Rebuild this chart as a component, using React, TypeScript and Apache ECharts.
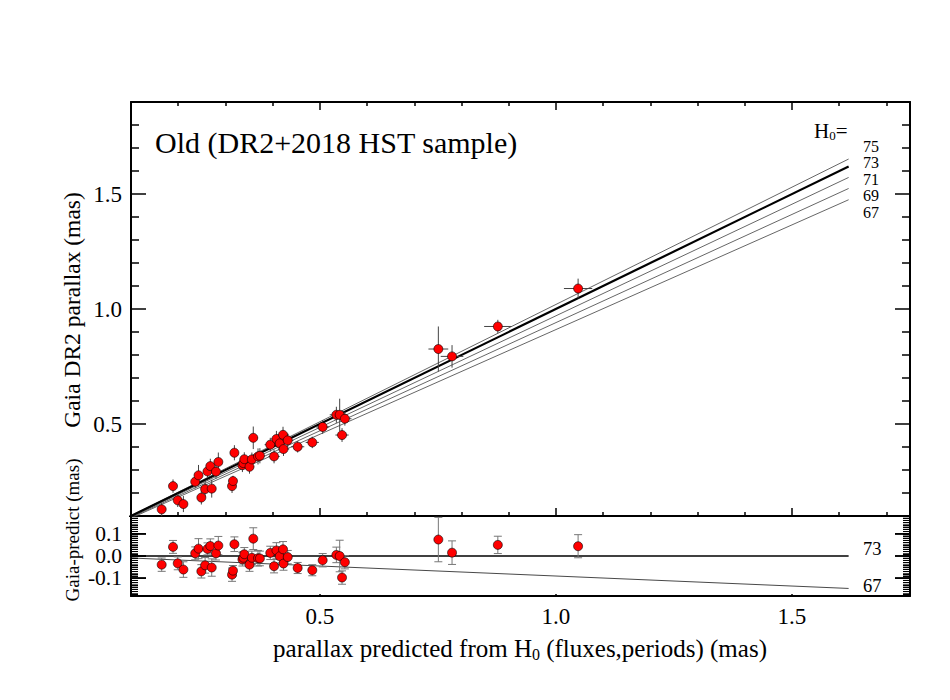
import React, { useEffect, useRef } from "react";
import * as echarts from "echarts";

const FONT = "'Liberation Serif', 'Times New Roman', serif";

// ---- data ----
const X = [0.165, 0.189, 0.199, 0.211, 0.236, 0.243, 0.249, 0.257, 0.262, 0.268, 0.271, 0.280, 0.285, 0.314, 0.316, 0.319, 0.336, 0.338, 0.340, 0.351, 0.356, 0.359, 0.369, 0.373, 0.395, 0.403, 0.408, 0.415, 0.422, 0.423, 0.432, 0.453, 0.484, 0.506, 0.535, 0.542, 0.547, 0.553, 0.751, 0.780, 0.877, 1.047];
const Y = [0.129, 0.230, 0.168, 0.152, 0.249, 0.277, 0.180, 0.217, 0.294, 0.317, 0.219, 0.293, 0.335, 0.230, 0.252, 0.375, 0.321, 0.330, 0.347, 0.314, 0.346, 0.440, 0.359, 0.362, 0.410, 0.359, 0.435, 0.416, 0.453, 0.391, 0.429, 0.401, 0.420, 0.487, 0.540, 0.540, 0.452, 0.523, 0.826, 0.794, 0.924, 1.089];
const EX = [0.006, 0.006, 0.006, 0.006, 0.006, 0.008, 0.008, 0.008, 0.008, 0.008, 0.008, 0.008, 0.008, 0.008, 0.008, 0.008, 0.010, 0.010, 0.010, 0.010, 0.010, 0.010, 0.010, 0.010, 0.012, 0.012, 0.012, 0.012, 0.012, 0.012, 0.012, 0.014, 0.014, 0.014, 0.014, 0.014, 0.014, 0.014, 0.021, 0.024, 0.029, 0.030];
const EY = [0.030, 0.029, 0.029, 0.035, 0.029, 0.045, 0.030, 0.035, 0.027, 0.032, 0.039, 0.030, 0.041, 0.030, 0.023, 0.033, 0.030, 0.028, 0.030, 0.030, 0.030, 0.049, 0.035, 0.033, 0.030, 0.030, 0.035, 0.030, 0.035, 0.030, 0.030, 0.025, 0.025, 0.030, 0.035, 0.070, 0.030, 0.030, 0.098, 0.049, 0.029, 0.043];
const RES = [-0.039, 0.041, -0.033, -0.061, 0.012, 0.033, -0.069, -0.042, 0.032, 0.045, -0.052, 0.012, 0.047, -0.084, -0.066, 0.053, -0.015, -0.008, 0.008, -0.039, -0.008, 0.078, -0.010, -0.011, 0.014, -0.046, 0.025, -0.001, 0.030, -0.034, -0.005, -0.054, -0.064, -0.019, 0.005, 0.000, -0.097, -0.028, 0.074, 0.015, 0.050, 0.044];
const RES_ERR = [0.030, 0.029, 0.029, 0.035, 0.029, 0.045, 0.030, 0.035, 0.027, 0.032, 0.039, 0.030, 0.041, 0.030, 0.023, 0.033, 0.030, 0.028, 0.030, 0.030, 0.030, 0.049, 0.035, 0.033, 0.030, 0.030, 0.035, 0.030, 0.035, 0.030, 0.030, 0.025, 0.025, 0.030, 0.035, 0.071, 0.030, 0.030, 0.100, 0.053, 0.039, 0.052];

const H0 = [75, 73, 71, 69, 67];
const LINE_X_END = 1.62;
const LINE_Y_END = [1.652, 1.62, 1.572, 1.524, 1.475];
const RES_H0 = [73, 67];
const RES_LINE_END = [0, -0.146];

const X_MIN = 0.1, X_MAX = 1.75;
const X_MAJOR = [0.5, 1.0, 1.5];
const X_MINOR = [0.2, 0.3, 0.4, 0.6, 0.7, 0.8, 0.9, 1.1, 1.2, 1.3, 1.4, 1.6, 1.7];
const Y_MAJOR = [0.5, 1.0, 1.5];
const Y_MINOR = [0.2, 0.3, 0.4, 0.6, 0.7, 0.8, 0.9, 1.1, 1.2, 1.3, 1.4, 1.6, 1.7, 1.8];
const R_MAJOR = [-0.1, 0.0, 0.1];
// residual panel: minor ticks every 0.01 between -0.17 and 0.17
const R_MINOR = [-0.17, -0.16, -0.15, -0.14, -0.13, -0.12, -0.11, -0.10, -0.09, -0.08, -0.07, -0.06, -0.05, -0.04, -0.03, -0.02, -0.01, 0.0, 0.01, 0.02, 0.03, 0.04, 0.05, 0.06, 0.07, 0.08, 0.09, 0.10, 0.11, 0.12, 0.13, 0.14, 0.15, 0.16, 0.17];

export default function App() {
  const ref = useRef<HTMLDivElement>(null);
  useEffect(() => {
    if (!ref.current) return;
    const chart = echarts.init(ref.current, undefined, { renderer: "svg" });

    const axisLine = { show: true, onZero: false, lineStyle: { color: "#000", width: 2 } };
    const noLine = { show: false };
    const lbl = (size: number) => ({ fontFamily: FONT, fontSize: size, color: "#000" });

    const xAx = (grid: number, position: string, ticks: number[], len: number, showLine: boolean, labels?: boolean) => ({
      type: "value", gridIndex: grid, position, min: X_MIN, max: X_MAX,
      splitLine: { show: false },
      axisLine: showLine ? axisLine : noLine,
      axisTick: { show: len > 0, inside: true, length: len, customValues: ticks, lineStyle: { color: "#000", width: 1.5 } },
      axisLabel: labels ? { show: true, customValues: X_MAJOR, margin: 9, showMinLabel: true, showMaxLabel: true, formatter: (v: number) => v.toFixed(1), ...lbl(23) } : { show: false },
    });
    const yAx = (grid: number, position: string, min: number, max: number, ticks: number[], len: number, showLine: boolean, labels?: number[], size = 23, w = 1.5) => ({
      type: "value", gridIndex: grid, position, min, max,
      splitLine: { show: false },
      axisLine: showLine ? axisLine : noLine,
      axisTick: { show: len > 0, inside: true, length: len, customValues: ticks, lineStyle: { color: "#000", width: w } },
      axisLabel: labels ? { show: true, customValues: labels, margin: 9, showMinLabel: true, showMaxLabel: true, hideOverlap: false, formatter: (v: number) => v.toFixed(1), ...lbl(size) } : { show: false },
    });

    const xAxis = [
      xAx(0, "bottom", X_MAJOR, 8, true),
      xAx(0, "bottom", X_MINOR, 4, false),
      xAx(0, "top", X_MAJOR, 8, true),
      xAx(0, "top", X_MINOR, 4, false),
      xAx(1, "bottom", X_MAJOR, 2, true, true),
    ];
    const yAxis = [
      yAx(0, "left", 0.1, 1.9, Y_MAJOR, 15, true, Y_MAJOR),
      yAx(0, "left", 0.1, 1.9, Y_MINOR, 8, false),
      yAx(0, "right", 0.1, 1.9, Y_MAJOR, 15, true),
      yAx(0, "right", 0.1, 1.9, Y_MINOR, 8, false),
      yAx(1, "left", -0.18, 0.18, R_MAJOR, 15, true, R_MAJOR, 21.5),
      yAx(1, "right", -0.18, 0.18, R_MAJOR, 15, true),
      yAx(1, "left", -0.18, 0.18, R_MINOR, 7, false, undefined, 23, 1),
      yAx(1, "right", -0.18, 0.18, R_MINOR, 7, false, undefined, 23, 1),
    ];

    const topPts = X.map((x, i) => [x, Y[i], EX[i], EY[i]]);
    const resPts = X.map((x, i) => [x, RES[i], RES_ERR[i]]);

    const series: any[] = [];
    H0.forEach((h, i) => {
      series.push({
        type: "line", name: "H0=" + h, xAxisIndex: 0, yAxisIndex: 0, symbol: "none", silent: true,
        data: [[0, 0], [LINE_X_END, LINE_Y_END[i]]],
        lineStyle: h === 73 ? { color: "#000", width: 2.2 } : { color: "#555", width: 0.9 },
        z: h === 73 ? 3 : 2,
      });
    });
    series.push({
      type: "custom", xAxisIndex: 0, yAxisIndex: 0, data: topPts, encode: { x: 0, y: 1 }, z: 4, silent: true,
      renderItem: (_p: any, api: any) => {
        const x = api.value(0), y = api.value(1), ex = api.value(2), ey = api.value(3);
        const l = api.coord([x - ex, y]), r = api.coord([x + ex, y]);
        const t = api.coord([x, y + ey]), b = api.coord([x, y - ey]);
        const st = { stroke: "#444", lineWidth: 1 };
        return {
          type: "group", children: [
            { type: "line", shape: { x1: l[0], y1: l[1], x2: r[0], y2: r[1] }, style: st },
            { type: "line", shape: { x1: t[0], y1: t[1], x2: b[0], y2: b[1] }, style: st },
          ],
        };
      },
    });
    series.push({
      type: "scatter", xAxisIndex: 0, yAxisIndex: 0, data: topPts.map((p) => [p[0], p[1]]),
      symbol: "circle", symbolSize: 9, z: 5,
      itemStyle: { color: "#ff0000", borderColor: "#000", borderWidth: 0.6, opacity: 1 },
    });
    RES_H0.forEach((h, i) => {
      series.push({
        type: "line", name: "res" + h, xAxisIndex: 4, yAxisIndex: 4, symbol: "none", silent: true,
        data: [[0, 0], [LINE_X_END, RES_LINE_END[i]]],
        lineStyle: h === 73 ? { color: "#000", width: 1.6 } : { color: "#333", width: 0.9 },
      });
    });
    series.push({
      type: "custom", xAxisIndex: 4, yAxisIndex: 4, data: resPts, encode: { x: 0, y: 1 }, z: 4, silent: true,
      renderItem: (params: any, api: any) => {
        const x = api.value(0), y = api.value(1), e = api.value(2);
        const t = api.coord([x, y + e]), b = api.coord([x, y - e]);
        const st = { stroke: "#777", lineWidth: 1 };
        const c = 4;
        const children: any[] = [
          { type: "line", shape: { x1: t[0], y1: t[1], x2: b[0], y2: b[1] }, style: st },
          { type: "line", shape: { x1: t[0] - c, y1: t[1], x2: t[0] + c, y2: t[1] }, style: st },
          { type: "line", shape: { x1: b[0] - c, y1: b[1], x2: b[0] + c, y2: b[1] }, style: st },
        ];
        if (params.dataIndex === 0) {
          // residual-panel ticks (dense minors + majors), placed through the residual axes
          const addTicks = (vals: number[], len: number, w: number) => {
            vals.forEach((v) => {
              const pl = api.coord([X_MIN, v]);
              const pr = api.coord([X_MAX, v]);
              const ts = { stroke: "#000", lineWidth: w };
              children.push({ type: "line", shape: { x1: pl[0], y1: pl[1], x2: pl[0] + len, y2: pl[1] }, style: ts });
              children.push({ type: "line", shape: { x1: pr[0] - len, y1: pr[1], x2: pr[0], y2: pr[1] }, style: ts });
            });
          };
          addTicks(R_MINOR, 7, 1);
          addTicks(R_MAJOR, 15, 1.5);
        }
        return { type: "group", children };
      },
    });
    series.push({
      type: "scatter", xAxisIndex: 4, yAxisIndex: 4, data: resPts.map((p) => [p[0], p[1]]),
      symbol: "circle", symbolSize: 9, z: 5,
      itemStyle: { color: "#ff0000", borderColor: "#000", borderWidth: 0.6, opacity: 1 },
    });

    const txt = (x: number, y: number, text: string, size: number, extra: any = {}) => ({
      type: "text", x, y, z: 100, silent: true,
      style: { text, fontFamily: FONT, fontSize: size, fill: "#000", align: "left", verticalAlign: "middle", ...extra },
    });
    const labelYs = [146, 162.5, 179, 195.5, 212];
    const graphic: any[] = [
      txt(155, 142, "Old (DR2+2018 HST sample)", 30),
      {
        type: "text", x: 814, y: 131, z: 100, silent: true,
        style: {
          text: "{h|H}{s|0}{h|=}", align: "left", verticalAlign: "middle",
          rich: {
            h: { fontFamily: FONT, fontSize: 21, fill: "#000", verticalAlign: "middle", lineHeight: 22 },
            s: { fontFamily: FONT, fontSize: 13, fill: "#000", verticalAlign: "bottom", lineHeight: 13, padding: [10, 0, 0, 0] },
          },
        },
      },
      ...H0.map((h, i) => txt(863, labelYs[i], String(h), 16)),
      txt(863, 549, "73", 18.5),
      txt(863, 586, "67", 18.5),
      {
        type: "text", x: 72, y: 310, rotation: Math.PI / 2, z: 100, silent: true,
        style: { text: "Gaia DR2 parallax (mas)", fontFamily: FONT, fontSize: 23.5, fill: "#000", align: "center", verticalAlign: "middle" },
      },
      {
        type: "text", x: 72, y: 530, rotation: Math.PI / 2, z: 100, silent: true,
        style: { text: "Gaia-predict (mas)", fontFamily: FONT, fontSize: 19, fill: "#000", align: "center", verticalAlign: "middle" },
      },
      {
        type: "text", x: 520, y: 648, z: 100, silent: true,
        style: {
          text: "{a|parallax predicted from H}{s|0}{a| (fluxes,periods) (mas)}", align: "center", verticalAlign: "middle",
          rich: {
            a: { fontFamily: FONT, fontSize: 25, fill: "#000", verticalAlign: "middle", lineHeight: 28 },
            s: { fontFamily: FONT, fontSize: 16, fill: "#000", verticalAlign: "bottom", lineHeight: 16, padding: [12, 0, 0, 0] },
          },
        },
      },
    ];

    chart.setOption({
      animation: false,
      backgroundColor: "#fff",
      grid: [
        { left: 131, width: 779, top: 102, height: 414 },
        { left: 131, width: 779, top: 516, height: 80 },
      ],
      xAxis,
      yAxis,
      series,
      graphic,
    });
    return () => chart.dispose();
  }, []);
  return <div ref={ref} style={{ position: "absolute", left: 0, top: 0, width: 950, height: 700 }} />;
}
